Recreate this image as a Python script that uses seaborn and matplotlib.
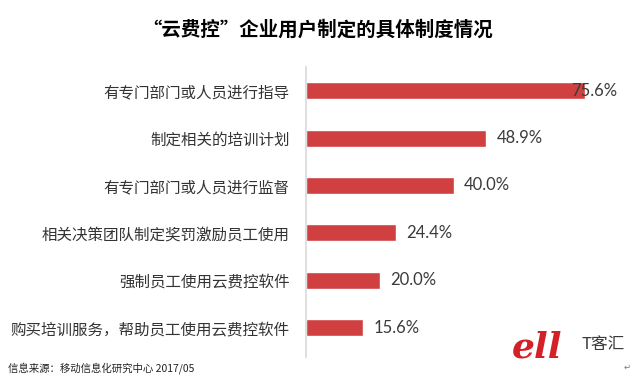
import matplotlib
matplotlib.use("Agg")
import matplotlib.pyplot as plt
import seaborn as sns
import pandas as pd

categories = [
    "有专门部门或人员进行指导",
    "制定相关的培训计划",
    "有专门部门或人员进行监督",
    "相关决策团队制定奖罚激励员工使用",
    "强制员工使用云费控软件",
    "购买培训服务，帮助员工使用云费控软件",
]
values = [75.6, 48.9, 40.0, 24.4, 20.0, 15.6]
title = "“云费控”企业用户制定的具体制度情况"
source = "信息来源：移动信息化研究中心 2017/05"

sns.set_theme(style="white")
plt.rcParams["font.family"] = ["Noto Sans CJK SC", "DejaVu Sans"]

df = pd.DataFrame({"cat": categories, "val": values})

W, H = 642, 377
fig = plt.figure(figsize=(W / 100, H / 100), dpi=100)
ax_left, ax_right, ax_top, ax_bot = 305.5, 617, 67, 357
ax = fig.add_axes([ax_left / W, 1 - ax_bot / H, (ax_right - ax_left) / W, (ax_bot - ax_top) / H])

sns.barplot(data=df, x="val", y="cat", orient="h", color="#D04041",
            width=0.36, ax=ax, saturation=1)
ax.set_xlim(0, (ax_right - ax_left) / 3.70)
ax.set_ylim(5.62, -0.5)
ax.set_xlabel("")
ax.set_ylabel("")
ax.set_xticks([])
ax.tick_params(axis="y", length=0, pad=11.5, labelsize=11.2, colors="#333333")
for s in ["top", "right", "bottom"]:
    ax.spines[s].set_visible(False)
ax.spines["left"].set_color("#D9D9D9")
ax.spines["left"].set_linewidth(1.2)

xmax = ax.get_xlim()[1]
for i, v in enumerate(values):
    txt = f"{v:.1f}%"
    est_w = 46 / 3.70  # approx label width in data units
    if v + 10 / 3.70 + est_w > xmax:
        ax.text(xmax, i, txt, ha="right", va="center", fontsize=12,
                color="#3A3A3A", family=["Lato", "DejaVu Sans"])
    else:
        ax.annotate(txt, (v, i), xytext=(7.5, 0), textcoords="offset points",
                    ha="left", va="center", fontsize=12, color="#3A3A3A",
                    family=["Lato", "DejaVu Sans"])

fig.text(318 / W, 1 - 30 / H, title, ha="center", va="center",
         fontsize=14, fontweight="bold", color="#000000")
fig.text(8 / W, 1 - 368 / H, source, ha="left", va="center",
         fontsize=7.5, color="#222222")

# logo
fig.text(537 / W, 1 - 347 / H, "ell", ha="center", va="center", fontsize=26,
         style="italic", fontweight="bold", color="#D42027",
         family=["DejaVu Serif"])
fig.text(603 / W, 1 - 344 / H, "T客汇", ha="center", va="center", fontsize=12,
         color="#3A3A3A")
fig.text(627 / W, 1 - 367 / H, "↵", ha="center", va="center", fontsize=6,
         color="#777777", family=["DejaVu Sans"])

fig.savefig("out.png", dpi=100, facecolor="white")
